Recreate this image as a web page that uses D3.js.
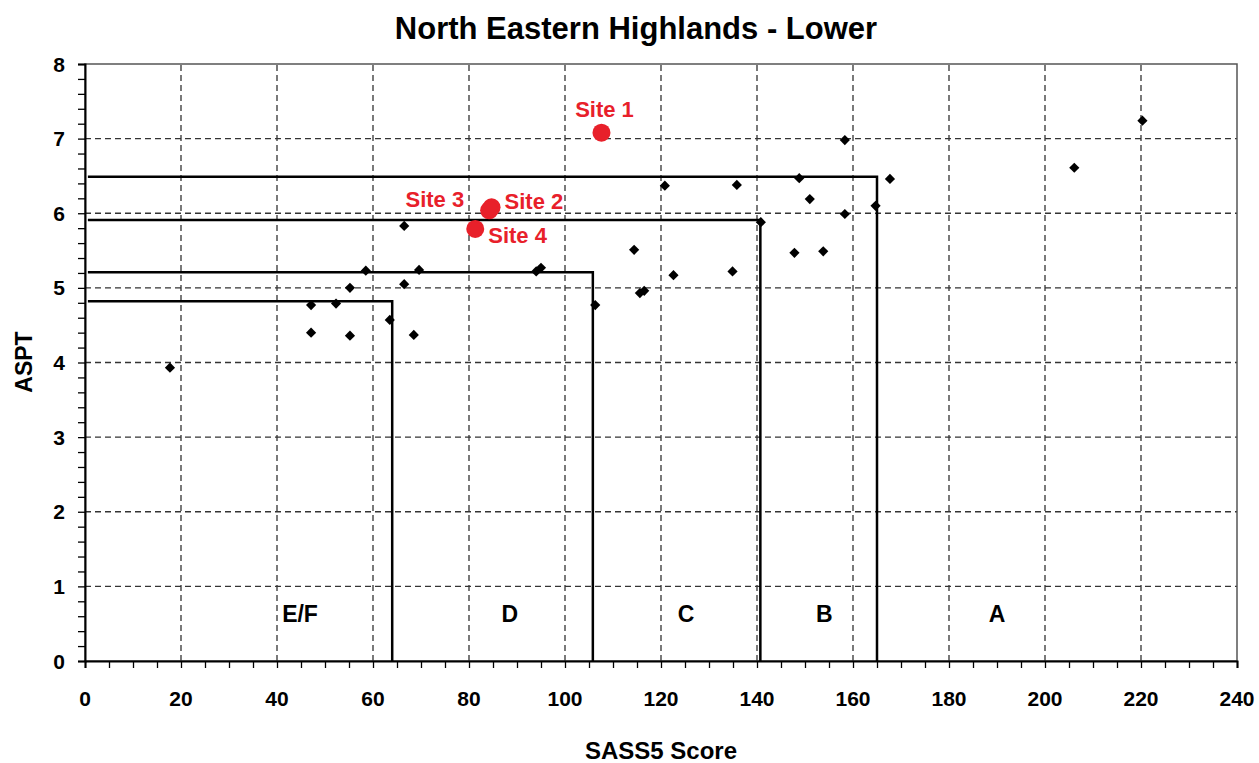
<!DOCTYPE html>
<html>
<head>
<meta charset="utf-8">
<script src="https://cdn.jsdelivr.net/npm/d3@7"></script>
<style>
body { margin: 0; background: #fff; }
text { font-family: "Liberation Sans", Arial, sans-serif; font-weight: bold; }
</style>
</head>
<body>
<script>
// reference sites (black diamonds)
var refX = [17.7, 47.1, 47.1, 52.3, 55.2, 55.2, 58.5, 63.5, 66.5, 66.5, 68.5, 69.6,
	94.0, 95.0, 106.3, 114.4, 115.6, 116.5, 120.8, 122.6, 134.9, 135.8, 140.8,
	147.8, 148.8, 151.0, 153.8, 158.3, 158.3, 164.7, 167.7, 206.1, 220.3];
var refY = [3.93, 4.77, 4.40, 4.79, 5.00, 4.36, 5.23, 4.57, 5.83, 5.05, 4.37, 5.24,
	5.22, 5.27, 4.77, 5.51, 4.93, 4.96, 6.37, 5.17, 5.22, 6.38, 5.88,
	5.47, 6.47, 6.19, 5.49, 6.98, 5.99, 6.10, 6.46, 6.61, 7.24];
// study sites (red)
var siteNames = ["Site 1", "Site 2", "Site 3", "Site 4"];
var siteX = [107.6, 84.7, 84.2, 81.3];
var siteY = [7.08, 6.08, 6.04, 5.79];
// class boundaries
var bandNames = ["E/F", "D", "C", "B", "A"];
var bandLabelX = [44.8, 88.5, 125.2, 154, 190];
var boundX = [64, 105.8, 140.7, 165];
var boundY = [4.82, 5.21, 5.91, 6.49];
var xTicks = d3.range(0, 241, 20);
var yTicks = d3.range(0, 9, 1);

var W = 1259, H = 763;
var m = {l: 85, r: 22, t: 64, b: 102};
var x = d3.scaleLinear().domain([0, 240]).range([m.l, W - m.r]);
var y = d3.scaleLinear().domain([0, 8]).range([H - m.b, m.t]);

var svg = d3.select("body").append("svg").attr("width", W).attr("height", H);

// grid
svg.append("g").selectAll("line").data(xTicks.slice(1, -1)).enter().append("line")
	.attr("x1", d => x(d)).attr("x2", d => x(d))
	.attr("y1", y(0)).attr("y2", y(8))
	.attr("stroke", "#333").attr("stroke-width", 1.3).attr("stroke-dasharray", "6,4");
svg.append("g").selectAll("line").data(yTicks.slice(1, -1)).enter().append("line")
	.attr("y1", d => y(d)).attr("y2", d => y(d))
	.attr("x1", x(0)).attr("x2", x(240))
	.attr("stroke", "#333").attr("stroke-width", 1.3).attr("stroke-dasharray", "6,4");

// frame
svg.append("rect").attr("x", x(0)).attr("y", y(8))
	.attr("width", x(240) - x(0)).attr("height", y(0) - y(8))
	.attr("fill", "none").attr("stroke", "#555").attr("stroke-width", 1.5);

// boundary lines
var bound = svg.append("g");
boundX.forEach(function(bx, i) {
	bound.append("path")
		.attr("d", d3.line()([[x(0.6), y(boundY[i])], [x(bx), y(boundY[i])], [x(bx), y(0)]]))
		.attr("fill", "none").attr("stroke", "#000").attr("stroke-width", 2.5);
});

// axes
var xMinor = d3.range(0, 241, 5);
var gx = svg.append("g").attr("transform", "translate(0," + y(0) + ")")
	.call(d3.axisBottom(x).tickValues(xMinor).tickSize(7).tickFormat(""));
gx.select(".domain").attr("stroke", "#000").attr("stroke-width", 2);
gx.selectAll(".tick line").attr("stroke", "#000").attr("stroke-width", 1.3);
svg.append("g").selectAll("text").data(xTicks).enter().append("text")
	.attr("x", d => x(d)).attr("y", 706)
	.attr("text-anchor", "middle").attr("font-size", 21).text(d => d);

var yMinor = d3.range(0, 40.5, 1).map(d => d / 5);
var gy = svg.append("g").attr("transform", "translate(" + x(0) + ",0)")
	.call(d3.axisLeft(y).tickValues(yMinor).tickSize(7).tickFormat(""));
gy.select(".domain").attr("stroke", "#000").attr("stroke-width", 2);
gy.selectAll(".tick line").attr("stroke", "#000").attr("stroke-width", 1.3);
svg.append("g").selectAll("text").data(yTicks).enter().append("text")
	.attr("x", x(0) - 20).attr("y", d => y(d) + 7.5)
	.attr("text-anchor", "end").attr("font-size", 21).text(d => d);

// band labels
svg.append("g").selectAll("text").data(bandNames).enter().append("text")
	.attr("x", (d, i) => x(bandLabelX[i])).attr("y", 622)
	.attr("text-anchor", "middle").attr("font-size", 23).text(d => d);

// reference points
svg.append("g").selectAll("path").data(refX).enter().append("path")
	.attr("d", d3.symbol().type(d3.symbolSquare).size(52))
	.attr("transform", (d, i) => "translate(" + x(d) + "," + y(refY[i]) + ") rotate(45)")
	.attr("fill", "#000");

// sites
var red = "#e8202a";
svg.append("g").selectAll("circle").data(siteX).enter().append("circle")
	.attr("cx", d => x(d)).attr("cy", (d, i) => y(siteY[i])).attr("r", 9)
	.attr("fill", red);
var lblDx = [3, 13, -25, 13], lblDy = [-16, 2, -3, 14], lblAnchor = ["middle", "start", "end", "start"];
svg.append("g").selectAll("text").data(siteNames).enter().append("text")
	.attr("x", (d, i) => x(siteX[i]) + lblDx[i]).attr("y", (d, i) => y(siteY[i]) + lblDy[i])
	.attr("text-anchor", (d, i) => lblAnchor[i])
	.attr("font-size", 22).attr("fill", red).text(d => d);

// titles
svg.append("text").attr("x", 636).attr("y", 39).attr("text-anchor", "middle")
	.attr("font-size", 31).text("North Eastern Highlands - Lower");
svg.append("text").attr("x", 661).attr("y", 759).attr("text-anchor", "middle")
	.attr("font-size", 24).text("SASS5 Score");
svg.append("text").attr("transform", "translate(32,362) rotate(-90)")
	.attr("text-anchor", "middle").attr("font-size", 23).text("ASPT");
</script>
</body>
</html>
